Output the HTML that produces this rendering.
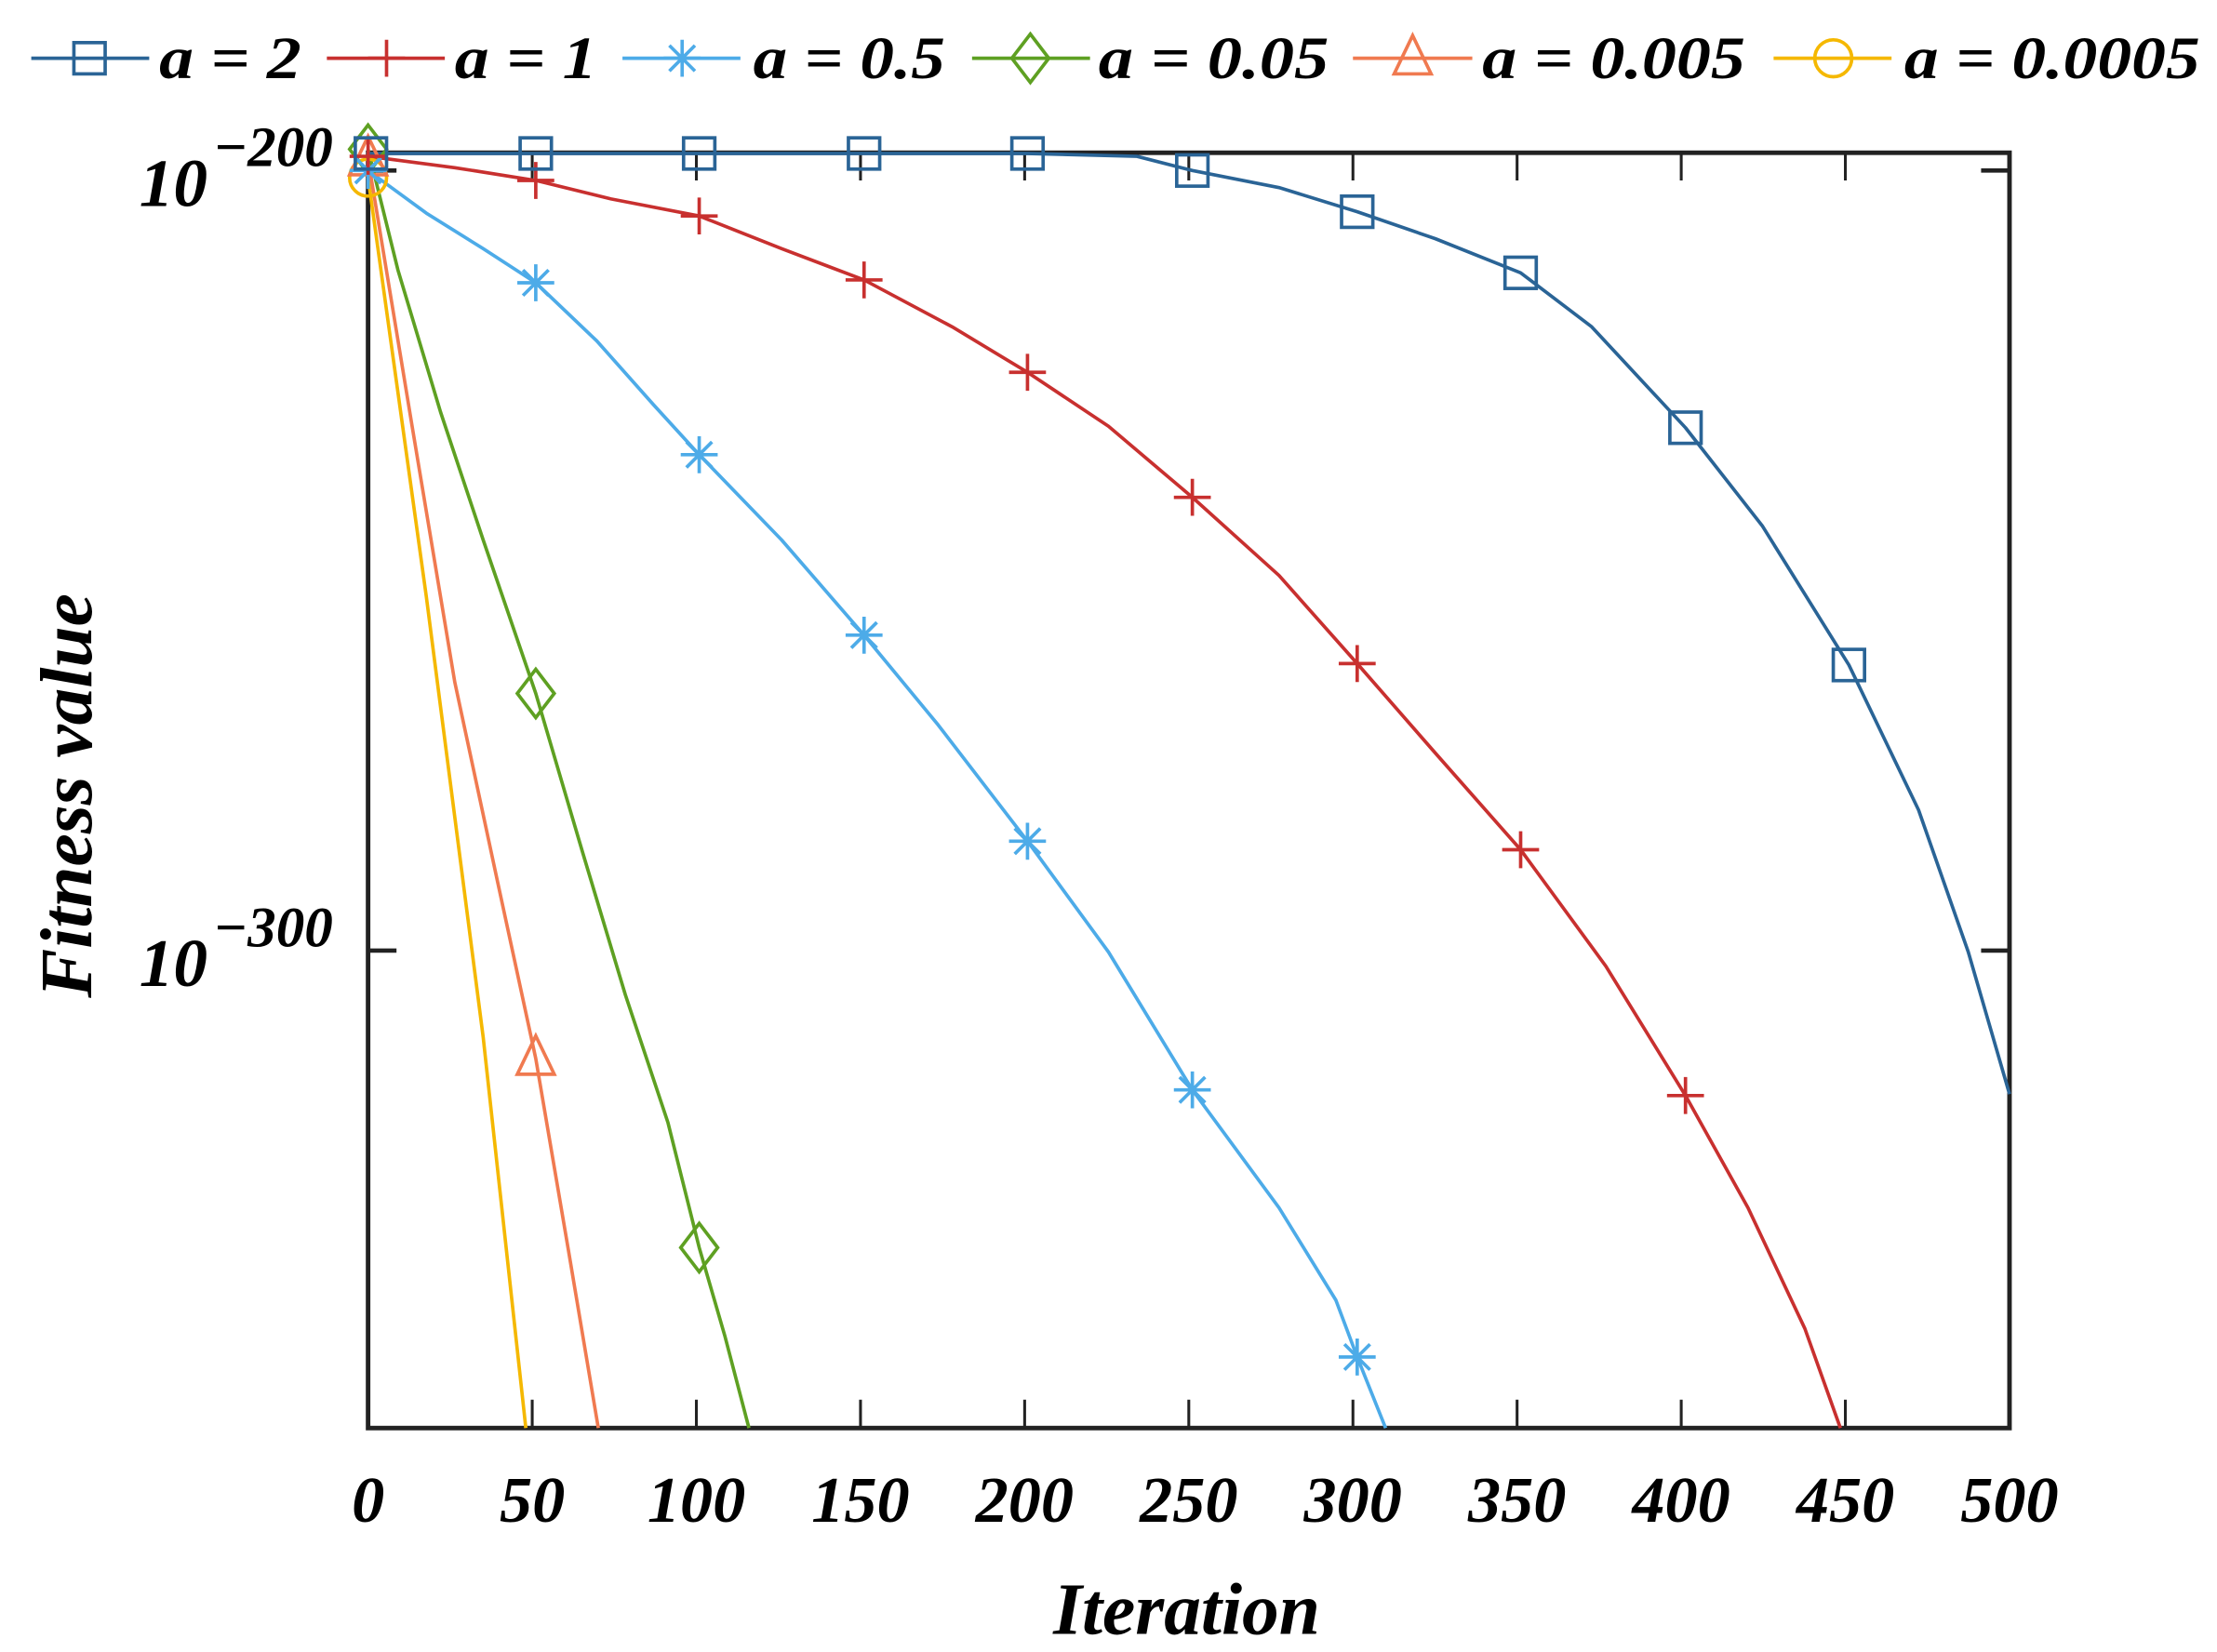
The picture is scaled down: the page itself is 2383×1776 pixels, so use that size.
<!DOCTYPE html>
<html><head><meta charset="utf-8"><style>
html,body{margin:0;padding:0;background:#fff;}
svg{display:block;}
text{font-family:"Liberation Serif",serif;font-style:italic;font-weight:bold;fill:#000;}
</style></head><body>
<svg width="2383" height="1776" viewBox="0 0 1560 1162.6" preserveAspectRatio="none" xmlns="http://www.w3.org/2000/svg">
<defs>
<g id="sq"><rect x="-11" y="-11" width="22" height="22" fill="none" stroke="#2a6496" stroke-width="2.4"/></g>
<g id="pl"><path d="M-13 0H13M0 -13V13" stroke="#c8302f" stroke-width="2.4"/></g>
<g id="st"><path d="M-13 0H13M0 -13V13M-9 -9L9 9M-9 9L9 -9" stroke="#4dabe8" stroke-width="2.4"/></g>
<g id="di"><path d="M0 -17L13 0L0 17L-13 0Z" fill="none" stroke="#5ea022" stroke-width="2.4"/></g>
<g id="tr"><path d="M0 -18L13 9H-13Z" fill="none" stroke="#f07a50" stroke-width="2.4"/></g>
<g id="ci"><ellipse rx="13" ry="13" fill="none" stroke="#f5b800" stroke-width="2.4"/></g>
</defs>

<g>
<line x1="22" y1="41" x2="105" y2="41" stroke="#2a6496" stroke-width="2.4"/><use href="#sq" x="63" y="41"/>
<text x="112" y="55" font-size="42" textLength="100" lengthAdjust="spacingAndGlyphs">a = 2</text>
<line x1="230" y1="41" x2="313" y2="41" stroke="#c8302f" stroke-width="2.4"/><use href="#pl" x="272" y="41"/>
<text x="320" y="55" font-size="42" textLength="100" lengthAdjust="spacingAndGlyphs">a = 1</text>
<line x1="438" y1="41" x2="521" y2="41" stroke="#4dabe8" stroke-width="2.4"/><use href="#st" x="480" y="41"/>
<text x="530" y="55" font-size="42" textLength="135" lengthAdjust="spacingAndGlyphs">a = 0.5</text>
<line x1="684" y1="41" x2="767" y2="41" stroke="#5ea022" stroke-width="2.4"/><use href="#di" x="725" y="41"/>
<text x="773" y="55" font-size="42" textLength="162" lengthAdjust="spacingAndGlyphs">a = 0.05</text>
<line x1="952" y1="41" x2="1036" y2="41" stroke="#f07a50" stroke-width="2.4"/><use href="#tr" x="994" y="43"/>
<text x="1043" y="55" font-size="42" textLength="185" lengthAdjust="spacingAndGlyphs">a = 0.005</text>
<line x1="1248" y1="41" x2="1331" y2="41" stroke="#f5b800" stroke-width="2.4"/><use href="#ci" x="1290" y="41"/>
<text x="1340" y="55" font-size="42" textLength="208" lengthAdjust="spacingAndGlyphs">a = 0.0005</text>
</g>

<rect x="259" y="107.5" width="1155" height="897.5" fill="none" stroke="#222" stroke-width="3.2"/>
<g stroke="#222" stroke-width="2">
<path d="M374.5 1005v-20M490 1005v-20M605.5 1005v-20M721 1005v-20M836.5 1005v-20M952 1005v-20M1067.5 1005v-20M1183 1005v-20M1298.5 1005v-20"/>
<path d="M374.5 107v20M490 107v20M605.5 107v20M721 107v20M836.5 107v20M952 107v20M1067.5 107v20M1183 107v20M1298.5 107v20"/>
<path d="M259 120h20M259 669h20M1414 120h-20M1414 669h-20" stroke-width="3"/>
</g>

<g font-size="46" text-anchor="middle" fill="#222">
<text x="259" y="1071">0</text><text x="374.5" y="1071">50</text><text x="490" y="1071">100</text>
<text x="605.5" y="1071">150</text><text x="721" y="1071">200</text><text x="836.5" y="1071">250</text>
<text x="952" y="1071">300</text><text x="1067.5" y="1071">350</text><text x="1183" y="1071">400</text>
<text x="1298.5" y="1071">450</text><text x="1414" y="1071">500</text>
</g>
<text x="98" y="145" font-size="48">10</text><text x="150" y="117" font-size="40">−200</text>
<text x="98" y="694" font-size="48">10</text><text x="150" y="666" font-size="40">−300</text>
<text x="835" y="1150" font-size="52" text-anchor="middle">Iteration</text>
<text transform="translate(64,560) rotate(-90)" font-size="52" text-anchor="middle">Fitness value</text>

<g fill="none" stroke-width="2.4" stroke-linejoin="round">
<polyline stroke="#f5b800" points="259,125 300,420 340,730 370,1005"/>
<polyline stroke="#f07a50" points="259,112 290,300 320,480 350,620 377,745 400,880 421,1005"/>
<polyline stroke="#5ea022" points="259,105 280,190 310,290 340,380 377,488 410,600 440,700 470,790 492,878 510,940 527,1005"/>
<polyline stroke="#4dabe8" points="259,120 300,150 340,175 377,199 420,240 460,285 492,320 550,380 608,447 660,510 723,592 780,670 839,767 900,850 940,915 955,955 975,1005"/>
<polyline stroke="#c8302f" points="259,110 320,118 377,127 430,140 492,152 550,175 608,197 670,230 723,262 780,300 839,350 900,405 955,467 1010,530 1070,598 1130,680 1186,771 1230,850 1270,935 1295,1005"/>
<polyline stroke="#2a6496" points="259,108 400,108 600,108 723,108 800,110 839,120 900,132 955,149 1010,168 1070,192 1120,230 1186,301 1240,370 1301,468 1350,570 1385,670 1414,770"/>
</g>
<g>
<use href="#ci" x="259" y="125"/>
<use href="#tr" x="259" y="114"/><use href="#tr" x="377" y="747"/>
<use href="#di" x="259" y="105"/><use href="#di" x="377" y="488"/><use href="#di" x="492" y="878"/>
<use href="#st" x="259" y="120"/><use href="#st" x="377" y="199"/><use href="#st" x="492" y="320"/><use href="#st" x="608" y="447"/><use href="#st" x="723" y="592"/><use href="#st" x="839" y="767"/><use href="#st" x="955" y="955"/>
<use href="#pl" x="259" y="110"/><use href="#pl" x="377" y="127"/><use href="#pl" x="492" y="152"/><use href="#pl" x="608" y="197"/><use href="#pl" x="723" y="262"/><use href="#pl" x="839" y="350"/><use href="#pl" x="955" y="467"/><use href="#pl" x="1070" y="598"/><use href="#pl" x="1186" y="771"/>
<use href="#sq" x="261" y="108"/><use href="#sq" x="377" y="108"/><use href="#sq" x="492" y="108"/><use href="#sq" x="608" y="108"/><use href="#sq" x="723" y="108"/><use href="#sq" x="839" y="120"/><use href="#sq" x="955" y="149"/><use href="#sq" x="1070" y="192"/><use href="#sq" x="1186" y="301"/><use href="#sq" x="1301" y="468"/>
</g>
</svg>
</body></html>
